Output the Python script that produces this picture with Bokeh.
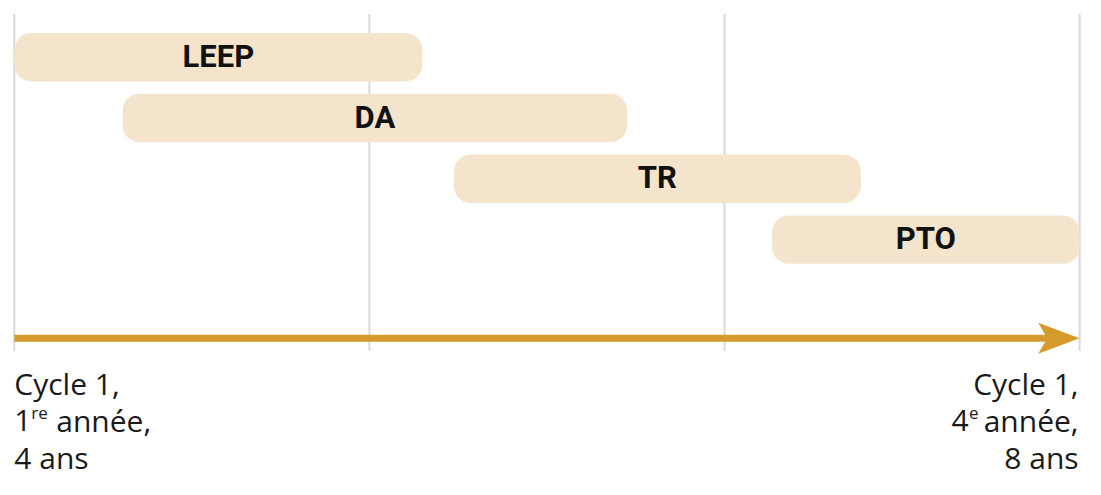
from bokeh.plotting import figure
from bokeh.models import Range1d, ColumnDataSource
from bokeh.core.properties import value
from bokeh.embed import file_html
from bokeh.resources import INLINE

# ---- data ----
programs = ["LEEP", "DA", "TR", "PTO"]
starts = [0.0, 0.305, 1.238, 2.134]      # position along cycle 1 (0 = 1re année / 4 ans, 3 = 4e année / 8 ans)
ends = [1.149, 1.726, 2.384, 3.0]
rows = [0, 1, 2, 3]
grid_positions = [0, 1, 2, 3]
start_lines = ["Cycle 1,", "1", "re", "année,", "4 ans"]
end_lines = ["Cycle 1,", "4", "e", "année,", "8 ans"]

# ---- layout constants ----
W, H = 1085, 479
PX_X = 355.1          # px per x unit
X0_PX = 13.8
ROW_PX = 60.8
ROW0_PX = 56.7
AXIS_ROW = 4.623
BAR_H = 0.796
GRID_TOP = -0.709
GRID_BOTTOM = 4.83

BAR_FILL = "#F3E4CB"
ARROW = "#D49A2C"
GRID = "#D9D9D9"

p = figure(width=W, height=H, output_backend="svg", toolbar_location=None,
           x_range=Range1d(-X0_PX / PX_X, (W - X0_PX) / PX_X),
           y_range=Range1d((H - ROW0_PX) / ROW_PX, -ROW0_PX / ROW_PX),
           min_border=0, min_border_left=0, min_border_right=0,
           min_border_top=0, min_border_bottom=0)
p.axis.visible = False
p.grid.visible = False
p.outline_line_color = None
p.background_fill_color = "white"
p.border_fill_color = "white"

# gridlines
n = len(grid_positions)
p.segment(x0=grid_positions, x1=grid_positions,
          y0=[GRID_TOP] * n, y1=[GRID_BOTTOM] * n, line_color=GRID, line_width=2)

# bars
src = ColumnDataSource(dict(name=programs, left=starts, right=ends,
                            top=[r - BAR_H / 2 for r in rows],
                            bottom=[r + BAR_H / 2 for r in rows],
                            cx=[(a + b) / 2 for a, b in zip(starts, ends)],
                            row=rows))
p.quad(left="left", right="right", top="top", bottom="bottom", source=src,
       fill_color=BAR_FILL, line_color=None, border_radius=17)
p.text(x="cx", y="row", text="name", source=src, text_align="center",
       text_baseline="middle", text_font=value("Roboto"), text_font_style="bold",
       text_font_size="31px", text_color="#111111", y_offset=-1)

# arrow
head_len = 41.4 / PX_X
head_half = 15.5 / ROW_PX
notch = 9 / PX_X
x_s = grid_positions[0]
x_e = grid_positions[-1]
p.segment(x0=[x_s], x1=[x_e - head_len + notch], y0=[AXIS_ROW], y1=[AXIS_ROW],
          line_color=ARROW, line_width=7)
p.patch(x=[x_e, x_e - head_len, x_e - head_len + notch, x_e - head_len],
        y=[AXIS_ROW, AXIS_ROW - head_half, AXIS_ROW, AXIS_ROW + head_half],
        fill_color=ARROW, line_color=None)

# labels
FONT = value("Open Sans")
FS = "30px"
SUP = "17px"
COL = "#1a1a1a"
L1, L2, L3 = 45.0, 82.5, 119.0
common = dict(text_font=FONT, text_color=COL, text_baseline="middle")
# left
p.text(x=[x_s], y=[AXIS_ROW], text=[start_lines[0]], text_align="left", text_font_size=FS, y_offset=L1, **common)
p.text(x=[x_s], y=[AXIS_ROW], text=[start_lines[1]], text_align="left", text_font_size=FS, y_offset=L2, **common)
p.text(x=[x_s], y=[AXIS_ROW], text=[start_lines[2]], text_align="left", text_font_size=SUP, y_offset=L2 - 8, x_offset=17, **common)
p.text(x=[x_s], y=[AXIS_ROW], text=[start_lines[3]], text_align="left", text_font_size=FS, y_offset=L2, x_offset=42, **common)
p.text(x=[x_s], y=[AXIS_ROW], text=[start_lines[4]], text_align="left", text_font_size=FS, y_offset=L3, **common)
# right
p.text(x=[x_e], y=[AXIS_ROW], text=[end_lines[0]], text_align="right", text_font_size=FS, y_offset=L1, x_offset=-1, **common)
p.text(x=[x_e], y=[AXIS_ROW], text=[end_lines[3]], text_align="right", text_font_size=FS, y_offset=L2, x_offset=-1, **common)
p.text(x=[x_e], y=[AXIS_ROW], text=[end_lines[2]], text_align="right", text_font_size=SUP, y_offset=L2 - 8, x_offset=-101, **common)
p.text(x=[x_e], y=[AXIS_ROW], text=[end_lines[1]], text_align="right", text_font_size=FS, y_offset=L2, x_offset=-111, **common)
p.text(x=[x_e], y=[AXIS_ROW], text=[end_lines[4]], text_align="right", text_font_size=FS, y_offset=L3, x_offset=-1, **common)

open("out.html", "w").write(file_html(p, INLINE))
